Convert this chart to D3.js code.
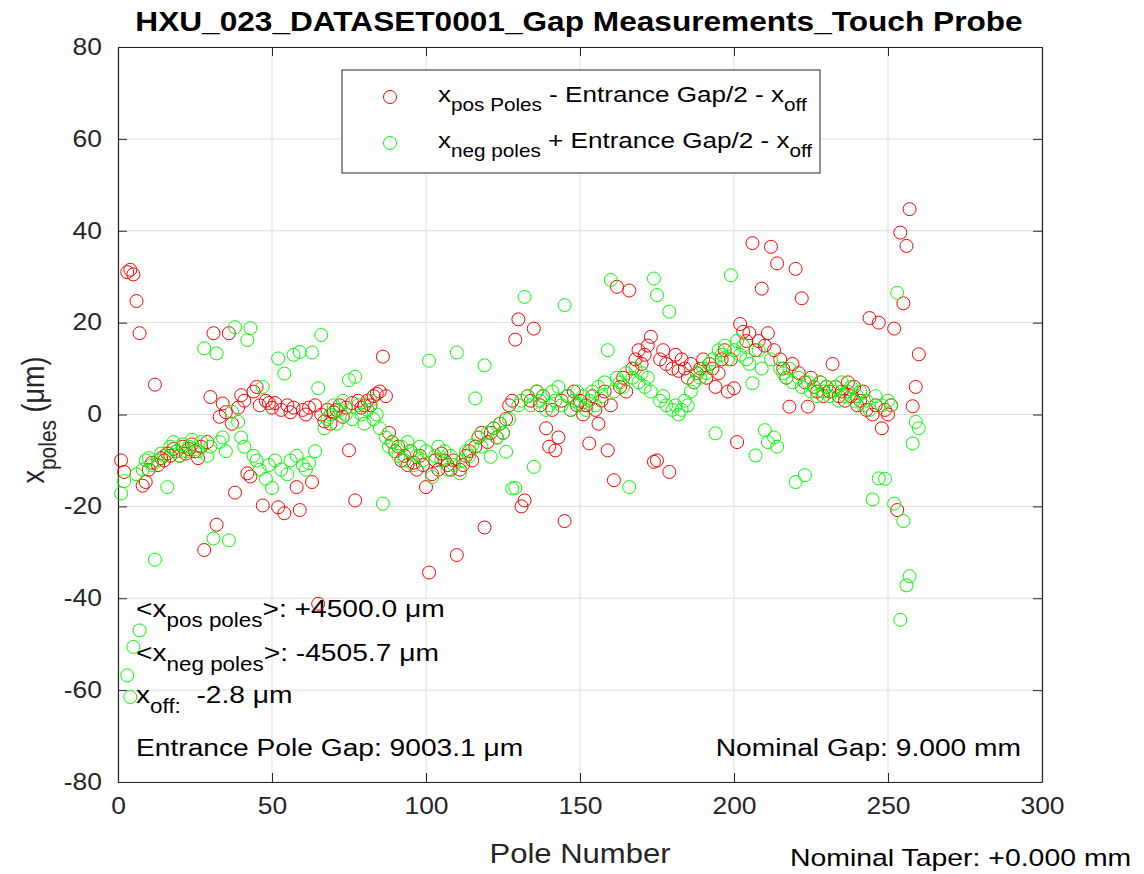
<!DOCTYPE html>
<html>
<head>
<meta charset="utf-8">
<script src="https://cdn.jsdelivr.net/npm/d3@7"></script>
<style>
  html, body { margin: 0; padding: 0; background: #fff; }
  svg { display: block; font-family: "Liberation Sans", Arial, Helvetica, sans-serif; }
</style>
</head>
<body>
<svg id="chart" width="1144" height="874"></svg>
<script>
// ---------------- data ----------------
const titleText = "HXU_023_DATASET0001_Gap Measurements_Touch Probe";
const xTicks = [0, 50, 100, 150, 200, 250, 300];
const yTicks = [-80, -60, -40, -20, 0, 20, 40, 60, 80];

// x_pos poles - Entrance Gap/2 - x_off, poles 1..260 (µm)
const posPoles = [
  -10, -12.5, 31, 31.5, 30.5, 24.7, 17.7, -15.5, -14.7, -12,
  -10.5, 6.5, -11, -9.5, -10, -8.5, -9, -7.5, -8, -9,
  -7, -8.5, -7.5, -6.5, -8, -9.5, -7, -29.5, -6, 3.8,
  17.7, -24, -0.5, 2.4, 0.5, 17.7, -2, -17, 1.5, 4.2,
  3, -12.8, -13.5, 5, 6, 2, -19.8, 3, 2.5, 1.5,
  2.5, -20.2, 1, -21.5, 2, 0.5, 1.5, -15.8, -20.8, 1,
  0, 1.5, -14.7, 2, -41.2, 0, -1.5, 1, -2, 0.5,
  1, 2, -0.5, 1.5, -7.8, 2.5, -18.7, 3, 1.5, 2,
  3, 2, 4, 4.5, 5, 12.6, 4, -4, -6, -8,
  -7, -10, -9, -11, -8, -10.5, -12, -9, -11, -15.8,
  -34.4, -13, -10, -12, -8.5, -10, -11, -12, -10, -30.6,
  -12, -11, -9, -8, -10, -7, -5, -4, -24.6, -6,
  -4, -3, -5, -2, -4, -1, 2, 3, 16.3, 20.7,
  -20, -18.7, 4, 3, 18.7, 5, 2, 4, -3, -7,
  1, -7.8, -5, 3, -23.2, 4, 1, 5, 2, 3,
  0, 2, -6.3, 4, 1, -2, 3, 5, -7.8, 2,
  -14.3, 27.8, 6, 8, 5, 27, 10, 12, 14, 11,
  13, 15, 16.9, -10.3, -10, 12, 14, 11, -12.5, 10,
  13, 9.5, 12, 10, 8, 11, 7, 9, 10, 12,
  8, 11, 10, 6, 9, 12, 14, 5, 12, 5.7,
  -6, 19.7, 18, 16, 17.7, 37.3, 14, 16, 27.4, 15,
  17.7, 36.5, 14, 32.9, 12, 10, 8, 1.7, 11, 31.7,
  9, 25.3, 7, 1.7, 8, 6, 5, 7, 4, 6,
  5, 11, 6, 4, 5, 3, 7, 4, 6, 2,
  3, 5, 1, 21, 0, 2, 20, -3, 1, 0,
  2, 18.7, -20.8, 39.6, 24.2, 36.7, 44.7, 1.8, 6, 13.1
];

// x_neg poles + Entrance Gap/2 - x_off, poles 1..260 (µm)
const negPoles = [
  -17.2, -14.5, -56.8, -61.5, -50.6, -13, -47, -12, -10, -9.5,
  -11, -31.6, -10, -8.5, -9, -15.8, -7, -6, -8, -9,
  -6.5, -8, -7, -5.5, -7.5, -8, -6, 14.4, -9, -7,
  -27, 13.3, -6, -5, -8, -27.4, 0.6, 19, -1.6, -5,
  -7, 16.2, 18.8, -9, -10, -12, 6, -14, -11, -16,
  -10, 12.2, -12, 8.9, -13, -10, 13, -9, 13.6, -11,
  -12, -10.6, 13.5, -8, 5.7, 17.3, -3, -1, 0, 2,
  -2, 1, 3, 0, 7.5, -1, 8.2, 2, 0, -2,
  1, 3, -1, 0, -3, -19.4, -5, -7, -6, -8,
  -9, -7, -10, -6, -8, -11, -9, -7, -10, -8,
  11.7, -13.6, -9, -7, -10, -8, -12, -9, -11, 13.5,
  -12.8, -10, -8, -9, -6.7, 3.5, -5, -7, 10.7, -4,
  -9.2, -3, -5, -2, -4, -8.1, -1, -16.1, -16, 2,
  3, 25.6, 4, 2, -11.4, 5, 3, 4, 1, 2,
  5, 3, 6, 2, 23.8, 4, 1, 3, 5, 2,
  4, 1, 3, 5, 2, 6, 4, 7, 14, 29.3,
  5, 8, 7, 6, 9, -15.8, 8, 10, 7, 9,
  6, 8, 5, 29.6, 26, 3, 4, 2, 22.4, 1,
  2, 0, 1, 3, 2, 5, 7, 9, 8, 10,
  9, 11, 12, -4.1, 14, 13, 15, 12, 30.3, 14,
  16, 13, 15, 12, 11, 6.8, -8.9, 14, 10, -3.4,
  -6, 12, -5, -7, 10, 9, 8, 10, 7, -14.7,
  8, 6, -13.2, 7, 5, 6, 4, 7, 5, 6,
  4, 5, 6, 3, 7, 4, 5, 6, 3, 4,
  5, 2, 3, 1, -18.5, 4, -13.9, 2, -14, 3,
  2, -19.4, 26.5, -44.7, -23.2, -37.2, -35.2, -6.3, -1.6, -3
];

const poleNumbers = posPoles.map((_, i) => i + 1);

// ---------------- layout ----------------
const svg = d3.select("#chart");
const L = 118, R = 1042, T = 47, B = 782;
const SX = 1.15; // horizontal glyph stretch of the reference
const x = d3.scaleLinear().domain([0, 300]).range([L, R]);
const y = d3.scaleLinear().domain([-80, 80]).range([B, T]);
const axisColor = "#262626";
const tickFmt = d => String(d);

svg.append("rect").attr("x", 0).attr("y", 0).attr("width", 1144).attr("height", 874).attr("fill", "#fff");

// grid
const grid = svg.append("g");
grid.selectAll(".gx").data(xTicks).enter().append("line")
  .attr("x1", d => x(d)).attr("x2", d => x(d)).attr("y1", T).attr("y2", B)
  .attr("stroke", "#dedede").attr("stroke-width", 1);
grid.selectAll(".gy").data(yTicks).enter().append("line")
  .attr("x1", L).attr("x2", R).attr("y1", d => y(d)).attr("y2", d => y(d))
  .attr("stroke", "#dedede").attr("stroke-width", 1);

// axes
const xPad = 16, yPad = 16;
const xAxis = d3.axisBottom(x).tickValues(xTicks).tickFormat(tickFmt).tickSizeInner(-9).tickSizeOuter(0).tickPadding(xPad);
const yAxis = d3.axisLeft(y).tickValues(yTicks).tickFormat(tickFmt).tickSizeInner(-9).tickSizeOuter(0).tickPadding(yPad);
const gx = svg.append("g").attr("transform", `translate(0,${B})`).call(xAxis);
const gy = svg.append("g").attr("transform", `translate(${L},0)`).call(yAxis);
[gx, gy].forEach(g => {
  g.selectAll("path").attr("stroke", axisColor).attr("stroke-width", 1.2);
  g.selectAll("line").attr("stroke", axisColor);
  g.selectAll("text").attr("fill", axisColor).style("font-size", "23px");
});
gx.selectAll("text").attr("transform", `scale(${SX},1)`);
gy.selectAll("text").attr("x", -yPad / SX).attr("transform", `scale(${SX},1)`);
// box top / right
const xAxisTop = d3.axisTop(x).tickValues(xTicks).tickSizeInner(-9).tickSizeOuter(0).tickFormat("");
const yAxisRight = d3.axisRight(y).tickValues(yTicks).tickSizeInner(-9).tickSizeOuter(0).tickFormat("");
const gxt = svg.append("g").attr("transform", `translate(0,${T})`).call(xAxisTop);
const gyr = svg.append("g").attr("transform", `translate(${R},0)`).call(yAxisRight);
[gxt, gyr].forEach(g => {
  g.selectAll("path").attr("stroke", axisColor).attr("stroke-width", 1.2);
  g.selectAll("line").attr("stroke", axisColor);
});

// stretched text helper with sub-scripts
function stext(parent, xp, yp, parts, o) {
  o = o || {};
  const size = o.size || 24.5, sub = o.sub || 19.5, dy = o.dy || 10;
  const g = parent.append("g").attr("transform", `translate(${xp},${yp}) ${o.rot ? "scale(" + SX + ",1) rotate(-90)" : "scale(" + SX + ",1)"}`);
  const t = g.append("text").attr("x", 0).attr("y", 0)
    .attr("text-anchor", o.anchor || "start")
    .attr("fill", o.fill || "#000")
    .style("font-size", size + "px")
    .style("white-space", "pre");
  if (o.bold) t.style("font-weight", "bold");
  let low = false;
  parts.forEach(p => {
    const ts = t.append("tspan").text(p.t);
    if (p.sub && !low) { ts.attr("dy", dy); low = true; }
    else if (!p.sub && low) { ts.attr("dy", -dy); low = false; }
    ts.style("font-size", (p.sub ? sub : size) + "px");
  });
  return t;
}

// annotations inside plot
const ann = svg.append("g");
stext(ann, 136, 617, [{t: "<x"}, {t: "pos poles", sub: true}, {t: ">: +4500.0 μm"}]);
stext(ann, 136, 661, [{t: "<x"}, {t: "neg poles", sub: true}, {t: ">: -4505.7 μm"}]);
stext(ann, 136, 703, [{t: "x"}, {t: "off:", sub: true}, {t: "\u00a0\u00a0-2.8 μm"}]);
stext(ann, 136, 756, [{t: "Entrance Pole Gap: 9003.1 μm"}]);
stext(ann, 1021, 756, [{t: "Nominal Gap: 9.000 mm"}], {anchor: "end"});

// points
const pts = svg.append("g");
pts.selectAll(".pos").data(poleNumbers).enter().append("circle")
  .attr("cx", d => x(d)).attr("cy", (d, i) => y(posPoles[i])).attr("r", 6.5)
  .attr("fill", "none").attr("stroke", "#ff0000").attr("stroke-width", 1);
pts.selectAll(".neg").data(poleNumbers).enter().append("circle")
  .attr("cx", d => x(d)).attr("cy", (d, i) => y(negPoles[i])).attr("r", 6.5)
  .attr("fill", "none").attr("stroke", "#00ff00").attr("stroke-width", 1);

// legend
const lg = svg.append("g");
lg.append("rect").attr("x", 342).attr("y", 70).attr("width", 478).attr("height", 103)
  .attr("fill", "#fff").attr("stroke", "#262626").attr("stroke-width", 1);
lg.append("circle").attr("cx", 390).attr("cy", 97).attr("r", 6.5).attr("fill", "none").attr("stroke", "#ff0000");
lg.append("circle").attr("cx", 390).attr("cy", 143).attr("r", 6.5).attr("fill", "none").attr("stroke", "#00ff00");
stext(lg, 438, 102, [{t: "x"}, {t: "pos Poles", sub: true}, {t: " - Entrance Gap/2 - x"}, {t: "off", sub: true}], {size: 22.7, sub: 18, dy: 9});
stext(lg, 438, 148, [{t: "x"}, {t: "neg poles", sub: true}, {t: " + Entrance Gap/2 - x"}, {t: "off", sub: true}], {size: 22.7, sub: 18, dy: 9});

// title & labels
stext(svg, 579, 31, [{t: titleText}], {size: 27.5, bold: true, anchor: "middle"});
stext(svg, 580, 863, [{t: "Pole Number"}], {size: 27, anchor: "middle", fill: axisColor});
stext(svg, 44, 420, [{t: "x"}, {t: "poles", sub: true}, {t: " (μm)"}], {size: 27, sub: 21, dy: 10, anchor: "middle", fill: axisColor, rot: true});
stext(svg, 790, 866, [{t: "Nominal Taper: +0.000 mm"}], {size: 24.7});
</script>
</body>
</html>
